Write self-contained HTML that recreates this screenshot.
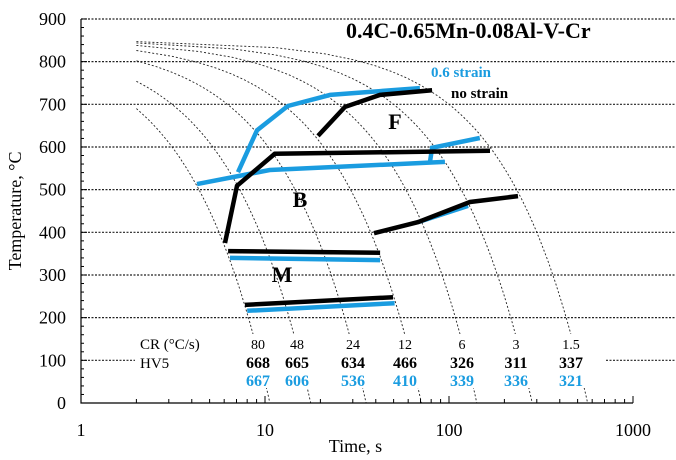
<!DOCTYPE html>
<html><head><meta charset="utf-8"><style>
body{margin:0;background:#fff}
svg{display:block;font-family:"Liberation Serif",serif}
</style></head><body>
<svg id="c" width="676" height="460"></svg>
<script>
const yTicks=[0,100,200,300,400,500,600,700,800,900];
const xTicks=[1,10,100,1000];
const coolingRates=[80,48,24,12,6,3,1.5];
const hvNoStrain=[668,665,634,466,326,311,337];
const hvStrain=[667,606,536,410,339,336,321];
const blueFStart=[[7.13,541],[9.05,639],[13.3,696],[22.6,722],[37.2,729],[69.5,738]];
const blackFStart=[[19.4,626],[27.2,694],[42.2,722],[80.9,733]];
const blackBStart=[[6.06,375],[7.04,509],[11.3,584],[167,591]];
const blueBStart=[[4.27,513],[7.2,532],[10.6,546],[95,565]];
const blueBStart2=[[78.8,565],[80.9,598],[147,621]];
const blackLowRight=[[39.1,398],[67.9,424],[130,471],[237,485]];
const blueLowRight=[[67.9,424],[127,462]];
const blackMs=[[6.3,356],[42.2,352]];
const blueMs=[[6.45,340],[42.2,335]];
const blackMf=[[7.78,230],[49.6,248]];
const blueMf=[[8.0,216],[50.6,234]];

const NS="http://www.w3.org/2000/svg";
const svg=document.getElementById('c');
const X=t=>81+184*Math.log10(t);
const Y=T=>403-T*0.4267;
function el(tag,attrs,parent){const e=document.createElementNS(NS,tag);for(const k in attrs)e.setAttribute(k,attrs[k]);(parent||svg).appendChild(e);return e;}
function txt(s,x,y,attrs){const e=el('text',Object.assign({x:x,y:y},attrs));e.textContent=s;return e;}

yTicks.forEach(v=>{if(v===0)return;
 const g=el('line',{x1:81,x2:676,y1:Y(v),y2:Y(v),stroke:'#222','stroke-width':1.2,'stroke-dasharray':'2,1.5'});
 
 
});
coolingRates.forEach((cr,i)=>{
 let d='';const tEnd=850/cr;
 for(let k=0;k<=60;k++){const t=2+(tEnd-2)*k/60;const T=Math.max(0,850-cr*t);d+=(k?'L':'M')+X(t).toFixed(1)+','+Y(T).toFixed(1);}
 const p=el('path',{d:d,fill:'none',stroke:'#222','stroke-width':0.9,'stroke-dasharray':'2,2'});
 
 
});
const ax=el('path',{d:`M81,${Y(900)}V403H${X(1000)}`,fill:'none',stroke:'#000','stroke-width':1.2});


for(let v=0;v<=900;v+=20){el('line',{x1:81,x2:v%100?84:87,y1:Y(v),y2:Y(v),stroke:'#000','stroke-width':1});}
for(let dec=1;dec<1000;dec*=10)for(let m=1;m<=10;m++){const xx=X(dec*m);el('line',{x1:xx,x2:xx,y1:403,y2:m===1||m===10?396:399,stroke:'#000','stroke-width':1});}
yTicks.forEach(v=>{const t=txt(String(v),66,Y(v)+6,{'font-size':18,'text-anchor':'end'});
 
 });
xTicks.forEach(v=>{const t=txt(String(v),X(v),436,{'font-size':18,'text-anchor':'middle'});
 
 });
let t1=txt('Time, s',X(31),452,{'font-size':18,'text-anchor':'middle'});


let t2=txt('Temperature, °C',0,0,{'font-size':18,'text-anchor':'middle',transform:`translate(21,${Y(450)}) rotate(-90)`});



function line(pts,color,name){const d=pts.map((p,i)=>(i?'L':'M')+X(p[0]).toFixed(1)+','+Y(p[1]).toFixed(1)).join('');
 const p=el('path',{d:d,fill:'none',stroke:color,'stroke-width':4.5,'stroke-linejoin':'miter'});
 
 }
const B='#1a9ce0',K='#000';
line(blueFStart,B,'ferrite-start-strain');
line(blueBStart,B,'bainite-start-strain');
line(blueBStart2,B,'bainite-start-strain-right');
line(blueLowRight,B,'pearlite-line-strain');
line(blueMs,B,'ms-strain');
line(blueMf,B,'mf-strain');
line(blackFStart,K,'ferrite-start-nostrain');
line(blackBStart,K,'bainite-start-nostrain');
line(blackLowRight,K,'pearlite-line-nostrain');
line(blackMs,K,'ms-nostrain');
line(blackMf,K,'mf-nostrain');

[['F',395,129],['B',300,207],['M',282,282]].forEach(a=>{const t=txt(a[0],a[1],a[2],{'font-size':22,'font-weight':'bold','text-anchor':'middle'});
 
 });
let tt=txt('0.4C-0.65Mn-0.08Al-V-Cr',346,38,{'font-size':22,'font-weight':'bold'});


let l1=txt('0.6 strain',431,77,{'font-size':15,'font-weight':'bold',fill:B});


let l2=txt('no strain',451,98,{'font-size':15,'font-weight':'bold'});



el('rect',{x:135,y:334,width:470,height:54,fill:'#fff'});
let c1=txt('CR (°C/s)',140,349,{'font-size':15});


let c2=txt('HV5',140,368,{'font-size':15});


const colX=[258,297,353,405,462,516,571];
coolingRates.forEach((cr,i)=>{
 const a=txt(String(cr),colX[i],349,{'font-size':14,'text-anchor':'middle'});
 
 
 const b=txt(String(hvNoStrain[i]),colX[i],368,{'font-size':16,'font-weight':'bold','text-anchor':'middle'});
 
 
 const c=txt(String(hvStrain[i]),colX[i],386,{'font-size':16,'font-weight':'bold','text-anchor':'middle',fill:B});
 
 
});
</script>
</body></html>
